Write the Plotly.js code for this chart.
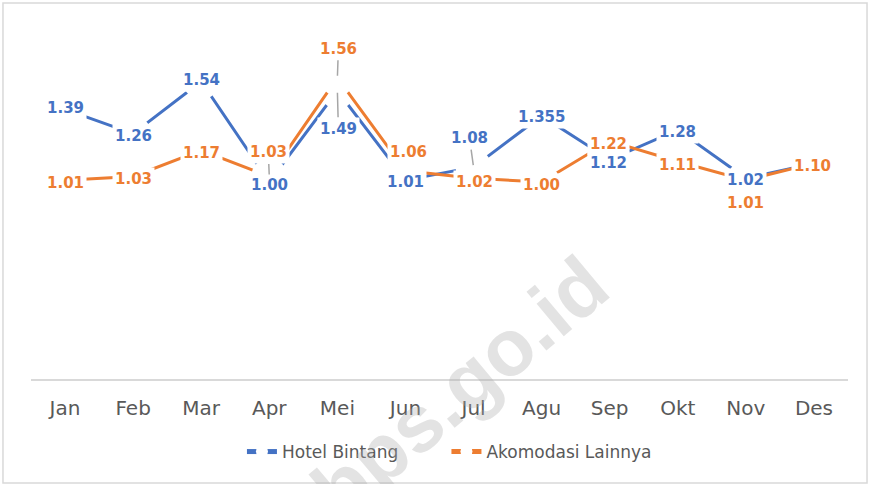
<!DOCTYPE html>
<html>
<head>
<meta charset="utf-8">
<script src="https://cdn.plot.ly/plotly-3.0.1.min.js"></script>
<style>
  html, body { margin: 0; padding: 0; background: #ffffff; }
  #chart { width: 870px; height: 484px; }
</style>
</head>
<body>
<div id="chart"></div>
<script>
// ---- data ----
const months = ["Jan", "Feb", "Mar", "Apr", "Mei", "Jun", "Jul", "Agu", "Sep", "Okt", "Nov", "Des"];
const hotelBintang = [1.39, 1.26, 1.54, 1.00, 1.49, 1.01, 1.08, 1.355, 1.12, 1.28, 1.02, 1.10];
const akomodasiLainnya = [1.01, 1.03, 1.17, 1.03, 1.56, 1.06, 1.02, 1.00, 1.22, 1.11, 1.01, 1.10];
const hotelLabels = ["1.39", "1.26", "1.54", "1.00", "1.49", "1.01", "1.08", "1.355", "1.12", "1.28", "1.02", "1.10"];
const akomLabels = ["1.01", "1.03", "1.17", "1.03", "1.56", "1.06", "1.02", "1.00", "1.22", "1.11", "1.01", "1.10"];
const seriesNames = ["Hotel Bintang", "Akomodasi Lainnya"];

// ---- label placement (pixel offsets from the point: [dx, dy, leaderLine]) ----
const hotelOffsets = [[0,-1,false],[0,2,false],[0,-2,false],[0,3,false],[1,38,true],[0,2,false],
                      [-4,-29,true],[0,1,false],[-1,3,false],[0,2,false],[0,2,false],[0,3,false]];
const akomOffsets  = [[0,3,false],[0,3,false],[0,3,false],[-1,-24,true],[1,-29,true],[3,-19,false],
                      [1,4,false],[0,3,false],[-1,3,false],[0,3,false],[0,23,false],[-1,3,false]];

const BLUE = "#4472C4", ORANGE = "#ED7D31";

const traces = [
  { x: months, y: hotelBintang, name: seriesNames[0], type: "scatter", mode: "lines+markers",
    line: { color: BLUE, width: 3 }, marker: { color: "#ffffff", size: 36, line: { width: 0 } },
    hoverinfo: "skip", legend: "legend" },
  { x: months, y: akomodasiLainnya, name: seriesNames[1], type: "scatter", mode: "lines+markers",
    line: { color: ORANGE, width: 3 }, marker: { color: "#ffffff", size: 36, line: { width: 0 } },
    hoverinfo: "skip", legend: "legend2" }
];

function makeLabels(vals, texts, offs, color) {
  return vals.map((v, i) => {
    const o = offs[i];
    const a = {
      x: months[i], y: v, xref: "x", yref: "y",
      text: texts[i],
      font: { family: "DejaVu Sans", size: 15, color: color, weight: 700 },
      bgcolor: "rgba(255,255,255,1)",
      borderpad: 2
    };
    if (o[2]) {
      a.showarrow = true; a.arrowhead = 0; a.arrowwidth = 1.5; a.arrowcolor = "#A6A6A6";
      a.ax = o[0]; a.ay = o[1]; a.standoff = 2;
    } else {
      a.showarrow = false; a.xshift = o[0]; a.yshift = -o[1];
    }
    return a;
  });
}

const annotations = []
  .concat(makeLabels(hotelBintang, hotelLabels, hotelOffsets, BLUE))
  .concat(makeLabels(akomodasiLainnya, akomLabels, akomOffsets, ORANGE));

// watermark
annotations.push({
  xref: "paper", yref: "paper", x: 0.5245, y: -0.022, xanchor: "center", yanchor: "middle",
  showarrow: false, text: "bps.go.id", textangle: -40,
  font: { family: "Liberation Sans", size: 80, color: "rgba(170,170,170,0.33)", weight: 700 }
});

const legendFont = { family: "DejaVu Sans", size: 17, color: "#595959" };

const layout = {
  width: 870, height: 484,
  margin: { l: 31, r: 22, t: 14, b: 105 },
  paper_bgcolor: "#ffffff", plot_bgcolor: "#ffffff",
  showlegend: true,
  legend: {
    orientation: "h", x: 0.2582, xanchor: "left", y: -0.2, yanchor: "middle",
    font: legendFont, bgcolor: "rgba(0,0,0,0)", itemsizing: "constant"
  },
  legend2: {
    orientation: "h", x: 0.5085, xanchor: "left", y: -0.2, yanchor: "middle",
    font: legendFont, bgcolor: "rgba(0,0,0,0)", itemsizing: "constant"
  },
  xaxis: {
    type: "category", range: [-0.5, 11.5],
    showline: true, linecolor: "#D9D9D9", linewidth: 1.5,
    showgrid: false, zeroline: false, ticks: "",
    tickfont: { family: "DejaVu Sans", size: 20, color: "#595959" },
    ticklabelstandoff: 10,
    fixedrange: true
  },
  yaxis: {
    range: [-0.059, 1.903],
    showline: false, showgrid: false, zeroline: false, showticklabels: false, ticks: "",
    fixedrange: true
  },
  annotations: annotations,
  shapes: [{
    type: "rect", xref: "paper", yref: "paper",
    x0: -0.0343, x1: 1.0233, y0: -0.285, y1: 1.030,
    line: { color: "#D9D9D9", width: 1.5 }, fillcolor: "rgba(0,0,0,0)", layer: "below"
  }]
};

Plotly.newPlot("chart", traces, layout, { displayModeBar: false, staticPlot: true });
</script>
</body>
</html>
